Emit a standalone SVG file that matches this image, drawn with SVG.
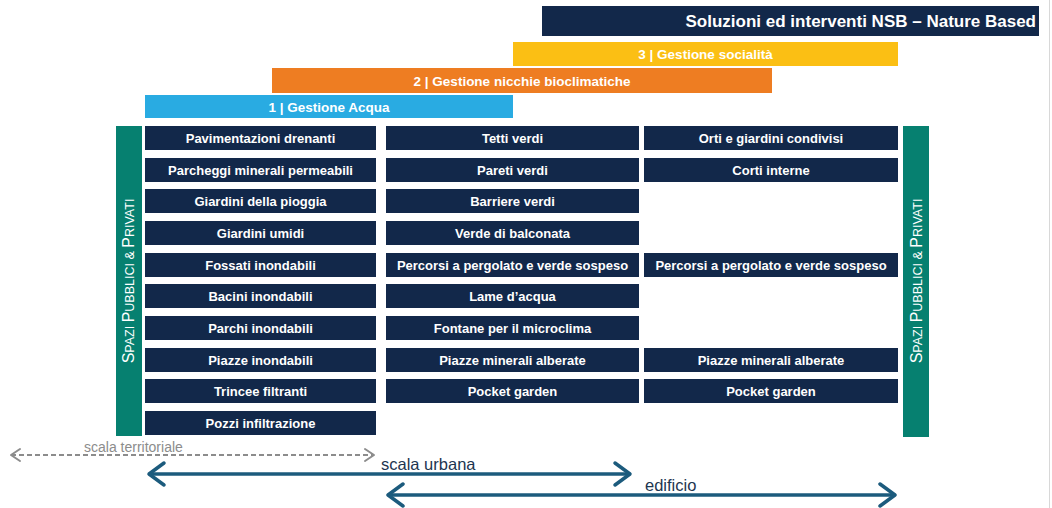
<svg xmlns="http://www.w3.org/2000/svg" width="1052" height="508" viewBox="0 0 1052 508">
<defs>
<style>
.box{fill:#12284a}
.bt{fill:#fff;font-family:"Liberation Sans",Arial,sans-serif;font-weight:bold;font-size:13px;text-anchor:middle}
.ht{fill:#fff;font-family:"Liberation Sans",Arial,sans-serif;font-weight:bold;font-size:13.5px;text-anchor:middle}
.side{fill:#068070}
.st{fill:#fff;font-family:"Liberation Sans",Arial,sans-serif;font-size:12.5px;text-anchor:middle}
.cap{font-size:16px}
.arr{fill:none;stroke:#1c5b7d;stroke-width:3.5}
.lbl{fill:#1d3550;font-family:"Liberation Sans",Arial,sans-serif;font-size:16.5px}
</style>
<marker id="ch" markerUnits="userSpaceOnUse" markerWidth="24" markerHeight="28" viewBox="-20 -14 24 28" refX="0" refY="0" orient="auto-start-reverse">
<path d="M-15,-11 L0,0 L-15,11" fill="none" stroke="#1c5b7d" stroke-width="3.5" stroke-linecap="round" stroke-linejoin="round"/>
</marker>
<marker id="chg" markerUnits="userSpaceOnUse" markerWidth="16" markerHeight="16" viewBox="-12 -8 16 16" refX="0" refY="0" orient="auto-start-reverse">
<path d="M-9,-6 L0,0 L-9,6" fill="none" stroke="#8c8c8c" stroke-width="2" stroke-linecap="round" stroke-linejoin="round"/>
</marker>
</defs>
<rect width="1052" height="508" fill="#fff"/>
<line x1="1049.5" y1="0" x2="1049.5" y2="508" stroke="#d8d8d8" stroke-width="1"/>

<g id="title">
<rect x="542" y="6" width="497" height="30" fill="#12284a"/>
<text x="1036" y="27" fill="#fff" font-family="Liberation Sans,Arial,sans-serif" font-weight="bold" font-size="17" text-anchor="end">Soluzioni ed interventi NSB – Nature Based</text>
</g>
<g id="h3">
<rect x="513" y="42" width="385" height="24" fill="#fbbf14"/>
<text class="ht" x="705.5" y="59">3 | Gestione socialità</text>
</g>
<g id="h2">
<rect x="272" y="68" width="500" height="25" fill="#ee7d22"/>
<text class="ht" x="522" y="85.5">2 | Gestione nicchie bioclimatiche</text>
</g>
<g id="h1">
<rect x="145" y="95" width="368" height="23" fill="#29abe2"/>
<text class="ht" x="329" y="111.5">1 | Gestione Acqua</text>
</g>

<g id="side-left">
<rect class="side" x="116" y="126" width="26" height="310"/>
<text class="st" transform="translate(134,281) rotate(-90)"><tspan class="cap">S</tspan>PAZI <tspan class="cap">P</tspan>UBBLICI &amp; <tspan class="cap">P</tspan>RIVATI</text>
</g>
<g id="side-right">
<rect class="side" x="903" y="126" width="26" height="311"/>
<text class="st" transform="translate(921.5,281) rotate(-90)"><tspan class="cap">S</tspan>PAZI <tspan class="cap">P</tspan>UBBLICI &amp; <tspan class="cap">P</tspan>RIVATI</text>
</g>

<g id="col1">
<g id="c1r1"><rect class="box" x="145" y="126" width="231" height="24"/><text class="bt" x="260.5" y="142.5">Pavimentazioni drenanti</text></g>
<g id="c1r2"><rect class="box" x="145" y="158" width="231" height="24"/><text class="bt" x="260.5" y="174.5">Parcheggi minerali permeabili</text></g>
<g id="c1r3"><rect class="box" x="145" y="189" width="231" height="24"/><text class="bt" x="260.5" y="205.5">Giardini della pioggia</text></g>
<g id="c1r4"><rect class="box" x="145" y="221" width="231" height="24"/><text class="bt" x="260.5" y="237.5">Giardini umidi</text></g>
<g id="c1r5"><rect class="box" x="145" y="253" width="231" height="24"/><text class="bt" x="260.5" y="269.5">Fossati inondabili</text></g>
<g id="c1r6"><rect class="box" x="145" y="284" width="231" height="24"/><text class="bt" x="260.5" y="300.5">Bacini inondabili</text></g>
<g id="c1r7"><rect class="box" x="145" y="316" width="231" height="24"/><text class="bt" x="260.5" y="332.5">Parchi inondabili</text></g>
<g id="c1r8"><rect class="box" x="145" y="348" width="231" height="24"/><text class="bt" x="260.5" y="364.5">Piazze inondabili</text></g>
<g id="c1r9"><rect class="box" x="145" y="379" width="231" height="24"/><text class="bt" x="260.5" y="395.5">Trincee filtranti</text></g>
<g id="c1r10"><rect class="box" x="145" y="411" width="231" height="24"/><text class="bt" x="260.5" y="427.5">Pozzi infiltrazione</text></g>
</g>

<g id="col2">
<g id="c2r1"><rect class="box" x="386" y="126" width="253" height="24"/><text class="bt" x="512.5" y="142.5">Tetti verdi</text></g>
<g id="c2r2"><rect class="box" x="386" y="158" width="253" height="24"/><text class="bt" x="512.5" y="174.5">Pareti verdi</text></g>
<g id="c2r3"><rect class="box" x="386" y="189" width="253" height="24"/><text class="bt" x="512.5" y="205.5">Barriere verdi</text></g>
<g id="c2r4"><rect class="box" x="386" y="221" width="253" height="24"/><text class="bt" x="512.5" y="237.5">Verde di balconata</text></g>
<g id="c2r5"><rect class="box" x="386" y="253" width="253" height="24"/><text class="bt" x="512.5" y="269.5">Percorsi a pergolato e verde sospeso</text></g>
<g id="c2r6"><rect class="box" x="386" y="284" width="253" height="24"/><text class="bt" x="512.5" y="300.5">Lame d’acqua</text></g>
<g id="c2r7"><rect class="box" x="386" y="316" width="253" height="24"/><text class="bt" x="512.5" y="332.5">Fontane per il microclima</text></g>
<g id="c2r8"><rect class="box" x="386" y="348" width="253" height="24"/><text class="bt" x="512.5" y="364.5">Piazze minerali alberate</text></g>
<g id="c2r9"><rect class="box" x="386" y="379" width="253" height="24"/><text class="bt" x="512.5" y="395.5">Pocket garden</text></g>
</g>

<g id="col3">
<g id="c3r1"><rect class="box" x="644" y="126" width="254" height="24"/><text class="bt" x="771" y="142.5">Orti e giardini condivisi</text></g>
<g id="c3r2"><rect class="box" x="644" y="158" width="254" height="24"/><text class="bt" x="771" y="174.5">Corti interne</text></g>
<g id="c3r5"><rect class="box" x="644" y="253" width="254" height="24"/><text class="bt" x="771" y="269.5">Percorsi a pergolato e verde sospeso</text></g>
<g id="c3r8"><rect class="box" x="644" y="348" width="254" height="24"/><text class="bt" x="771" y="364.5">Piazze minerali alberate</text></g>
<g id="c3r9"><rect class="box" x="644" y="379" width="254" height="24"/><text class="bt" x="771" y="395.5">Pocket garden</text></g>
</g>

<g id="connectors">
<line x1="11" y1="455" x2="374" y2="455" stroke="#8c8c8c" stroke-width="2" stroke-dasharray="5 3" marker-start="url(#chg)" marker-end="url(#chg)"/>
<line class="arr" x1="149" y1="474" x2="630" y2="474" marker-start="url(#ch)" marker-end="url(#ch)"/>
<line class="arr" x1="388" y1="495" x2="895" y2="495" marker-start="url(#ch)" marker-end="url(#ch)"/>
</g>
<g id="labels">
<text x="84" y="452" fill="#8c8c8c" font-family="Liberation Sans,Arial,sans-serif" font-size="14">scala territoriale</text>
<text class="lbl" x="381" y="470">scala urbana</text>
<text class="lbl" x="645" y="491">edificio</text>
</g>
</svg>
